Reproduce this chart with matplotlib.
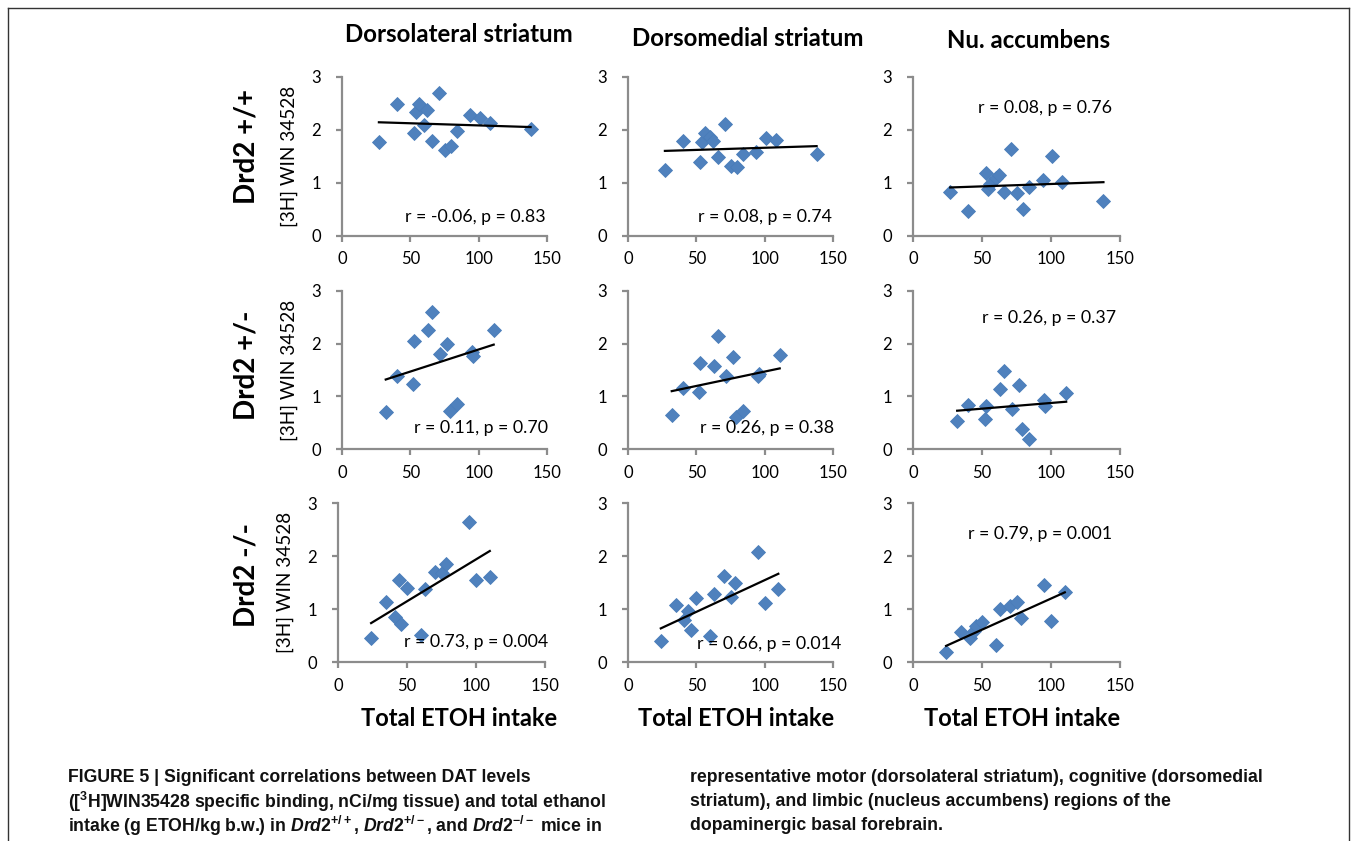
import matplotlib
matplotlib.use("Agg")
import matplotlib.pyplot as plt
from matplotlib.lines import Line2D

W, H, DPI = 1357, 841, 100

# ---------------- data ----------------
region_titles = ["Dorsolateral striatum", "Dorsomedial striatum", "Nu. accumbens"]
genotype_labels = ["Drd2 +/+", "Drd2 +/-", "Drd2 -/-"]
y_label = "[3H] WIN 34528"
x_label = "Total ETOH intake"
x_ticks = [0, 50, 100, 150]
y_ticks = [0, 1, 2, 3]

# Drd2 +/+
etoh_wt = [27, 40, 53, 54, 56, 60, 62, 66, 71, 75, 80, 84, 94, 101, 108, 138]
win_wt_dls = [1.77, 2.48, 1.93, 2.33, 2.48, 2.08, 2.38, 1.78, 2.70, 1.62, 1.70, 1.97, 2.28, 2.23, 2.13, 2.02]
win_wt_dms = [1.24, 1.78, 1.40, 1.76, 1.93, 1.87, 1.79, 1.48, 2.10, 1.32, 1.30, 1.55, 1.57, 1.84, 1.80, 1.55]
win_wt_nac = [0.82, 0.46, 1.19, 0.88, 0.98, 1.08, 1.14, 0.83, 1.63, 0.80, 0.50, 0.91, 1.05, 1.50, 1.01, 0.66]

# Drd2 +/-
etoh_het = [32, 40, 52, 53, 63, 66, 72, 77, 79, 84, 95, 96, 111]
win_het_dls = [0.71, 1.39, 1.23, 2.05, 2.26, 2.60, 1.80, 2.00, 0.72, 0.86, 1.84, 1.76, 2.26]
win_het_dms = [0.64, 1.16, 1.08, 1.64, 1.57, 2.14, 1.38, 1.75, 0.62, 0.73, 1.39, 1.42, 1.78]
win_het_nac = [0.54, 0.84, 0.57, 0.81, 1.15, 1.49, 0.76, 1.22, 0.39, 0.19, 0.94, 0.81, 1.06]

# Drd2 -/-
etoh_ko = [24, 35, 41, 44, 46, 50, 60, 63, 70, 75, 78, 95, 100, 110]
win_ko_dls = [0.45, 1.14, 0.86, 1.55, 0.72, 1.40, 0.52, 1.38, 1.70, 1.68, 1.86, 2.64, 1.56, 1.61]
win_ko_dms = [0.40, 1.08, 0.79, 0.96, 0.61, 1.21, 0.49, 1.28, 1.62, 1.23, 1.50, 2.09, 1.12, 1.38]
win_ko_nac = [0.19, 0.57, 0.45, 0.60, 0.69, 0.76, 0.32, 1.01, 1.07, 1.14, 0.84, 1.45, 0.78, 1.32]

# linear trend line end values (at min and max intake of each row)
trend_wt_start = [2.14, 1.60, 0.91]
trend_wt_end = [2.05, 1.69, 1.01]
trend_het_start = [1.32, 1.10, 0.73]
trend_het_end = [1.98, 1.53, 0.90]
trend_ko_start = [0.74, 0.64, 0.31]
trend_ko_end = [2.10, 1.67, 1.32]

stats_wt = ["r = -0.06, p = 0.83", "r = 0.08, p = 0.74", "r = 0.08, p = 0.76"]
stats_het = ["r = 0.11, p = 0.70", "r = 0.26, p = 0.38", "r = 0.26, p = 0.37"]
stats_ko = ["r = 0.73, p = 0.004", "r = 0.66, p = 0.014", "r = 0.79, p = 0.001"]

rows = [
    (etoh_wt, [win_wt_dls, win_wt_dms, win_wt_nac], trend_wt_start, trend_wt_end, stats_wt),
    (etoh_het, [win_het_dls, win_het_dms, win_het_nac], trend_het_start, trend_het_end, stats_het),
    (etoh_ko, [win_ko_dls, win_ko_dms, win_ko_nac], trend_ko_start, trend_ko_end, stats_ko),
]

# ---------------- layout (pixels) ----------------
col_x0 = [[342, 628, 913], [342, 628, 913], [338, 628, 913]]
col_w = [[205, 205, 207], [205, 205, 207], [207, 205, 207]]
row_top = [76.7, 290.7, 503.3]
row_bot = [235.7, 449.3, 662.3]
# stats text anchor (right edge, vertical centre) in data coords
stat_pos = [[(149, 0.36), (149, 0.36), (144.5, 2.40)],
            [(151, 0.40), (151, 0.40), (147.5, 2.49)],
            [(152.5, 0.39), (156, 0.35), (144.5, 2.42)]]

FONT = ["Lato", "DejaVu Sans"]
plt.rcParams['font.family'] = FONT
plt.rcParams['mathtext.fontset'] = 'custom'
plt.rcParams['mathtext.rm'] = 'Liberation Sans:bold'
plt.rcParams['mathtext.it'] = 'Liberation Sans:italic:bold'
plt.rcParams['mathtext.bf'] = 'Liberation Sans:bold'

fig = plt.figure(figsize=(W / DPI, H / DPI), dpi=DPI)
fig.patch.set_facecolor("white")


def fx(x):
    return x / W


def fy(y):
    return 1 - y / H


AX_GRAY = "#8c8c8c"
BLUE = "#4F81BD"

for r, (xs, ys_list, t0, t1, stats) in enumerate(rows):
    for c in range(3):
        x0 = col_x0[r][c]
        w = col_w[r][c]
        ax = fig.add_axes([fx(x0), fy(row_bot[r]), fx(w), (row_bot[r] - row_top[r]) / H])
        ax.set_xlim(0, 150)
        ax.set_ylim(0, 3)
        ax.set_xticks(x_ticks)
        ax.set_yticks(y_ticks)
        for s in ["top", "right"]:
            ax.spines[s].set_visible(False)
        for s in ["left", "bottom"]:
            ax.spines[s].set_color(AX_GRAY)
            ax.spines[s].set_linewidth(1.6)
        ax.tick_params(axis="both", direction="out", length=4, width=1.6, color=AX_GRAY,
                       labelsize=12, labelcolor="black")
        ax.tick_params(axis="x", pad=7)
        ax.tick_params(axis="y", pad=11)
        ax.set_facecolor("none")
        ys = ys_list[c]
        ax.plot(xs, ys, linestyle="none", marker="D", markersize=6.8,
                markerfacecolor=BLUE, markeredgecolor="#4A7DBA", markeredgewidth=0.6,
                zorder=3, clip_on=False)
        xmin, xmax = min(xs), max(xs)
        ax.plot([xmin, xmax], [t0[c], t1[c]], color="black", linewidth=1.6, zorder=4)
        sx, sy = stat_pos[r][c]
        ax.text(sx, sy, stats[c], ha="right", va="center", fontsize=12.8,
                color="black", zorder=5, clip_on=False)
        if c == 0:
            ax.set_ylabel(y_label, fontsize=13.7, labelpad=10)

# column titles
title_x = [459, 748, 1029]
title_y = [35, 38, 40]
for c in range(3):
    fig.text(fx(title_x[c]), fy(title_y[c]), region_titles[c], ha="center", va="center",
             fontsize=17.3, fontweight="bold")

# row labels
row_lab_y = [147, 365, 575]
for r in range(3):
    fig.text(fx(246), fy(row_lab_y[r]), genotype_labels[r], ha="center", va="center",
             rotation=90, fontsize=20, fontweight="bold")

# x labels
xl_x = [459, 736, 1022]
for c in range(3):
    fig.text(fx(xl_x[c]), fy(718), x_label, ha="center", va="center",
             fontsize=17, fontweight="bold")

# caption
CAP = ["Liberation Sans", "DejaVu Sans"]
cap_left = [
    "FIGURE 5 | Significant correlations between DAT levels",
    "([$^{3}$H]WIN35428 specific binding, nCi/mg tissue) and total ethanol",
    r"intake (g ETOH/kg b.w.) in $\mathit{Drd2}^{+/+}$, $\mathit{Drd2}^{+/-}$, and $\mathit{Drd2}^{-/-}$ mice in",
]
cap_right = [
    "representative motor (dorsolateral striatum), cognitive (dorsomedial",
    "striatum), and limbic (nucleus accumbens) regions of the",
    "dopaminergic basal forebrain.",
]
cap_y = [778, 802, 826]
for i in range(3):
    fig.text(fx(68), fy(cap_y[i]), cap_left[i], ha="left", va="center", fontsize=12.7,
             fontweight="bold", family=CAP, color="#111111")
    fig.text(fx(690), fy(cap_y[i]), cap_right[i], ha="left", va="center", fontsize=12.7,
             fontweight="bold", family=CAP, color="#111111")

# frame
frame_kw = dict(color="#333333", linewidth=1.0, transform=fig.transFigure)
fig.add_artist(Line2D([fx(8), fx(1349)], [fy(8), fy(8)], **frame_kw))
fig.add_artist(Line2D([fx(8), fx(8)], [fy(8), fy(841)], **frame_kw))
fig.add_artist(Line2D([fx(1349), fx(1349)], [fy(8), fy(841)], **frame_kw))

fig.savefig("out.png", dpi=DPI)
